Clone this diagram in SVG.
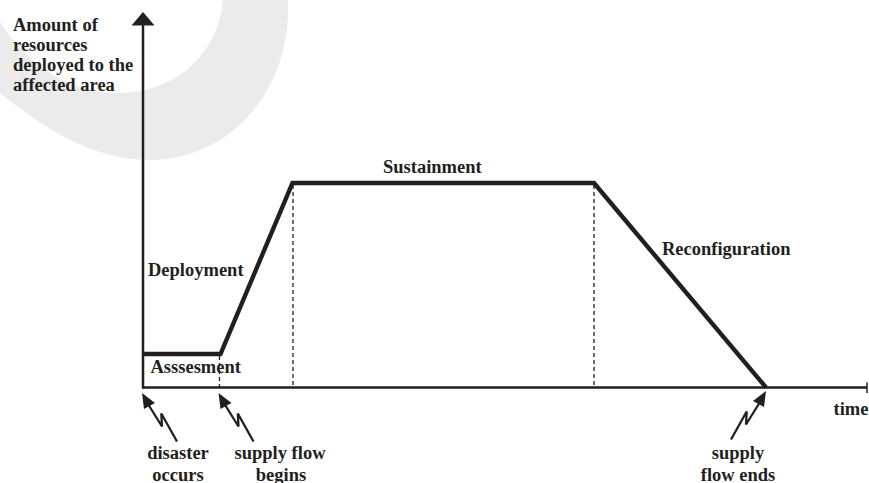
<svg xmlns="http://www.w3.org/2000/svg" width="869" height="483" viewBox="0 0 869 483">
  <style>
    .t { font-family: "Liberation Serif", "Times New Roman", serif; font-weight: bold; font-size: 18.5px; fill: #231f20; }
    .m { text-anchor: middle; }
    .ax { stroke: #231f20; stroke-width: 2.5; fill: none; }
    .curve { stroke: #231f20; stroke-width: 4.4; fill: none; stroke-linejoin: miter; }
    .dash { stroke: #231f20; stroke-width: 1.3; stroke-dasharray: 4 3; fill: none; }
    .bolt { stroke: #231f20; stroke-width: 2.3; fill: none; stroke-linejoin: miter; }
    .head { fill: #231f20; }
  </style>
  <defs>
    <g id="boltShape">
      <polygon class="head" points="0,0 2,16 13,10"/>
      <polyline class="bolt" points="6,11 20,33.5 19.3,20.5 35,48.5"/>
    </g>
  </defs>
  <rect width="869" height="483" fill="#ffffff"/>
  <path id="watermark" fill="#ebebeb" d="M 288,0 C 292,90 230,160 150,160 C 90,160 40,125 0,93 L 0,22 C 25,60 65,94 120,93 C 175,92 218,55 223,0 Z"/>

  <g id="axes">
    <line class="ax" x1="143" y1="22" x2="143" y2="388.5"/>
    <polygon class="head" points="143,12 131.5,25.5 154.5,25.5"/>
    <line class="ax" x1="142" y1="387.5" x2="867" y2="387.5"/>
    <line stroke="#231f20" stroke-width="1.5" x1="867" y1="382.5" x2="867" y2="393"/>
  </g>

  <g id="guides">
    <line class="dash" x1="219.5" y1="356" x2="219.5" y2="387"/>
    <line class="dash" x1="293" y1="185" x2="293" y2="387"/>
    <line class="dash" x1="594" y1="185" x2="594" y2="387"/>
  </g>

  <g id="connectors">
    <polyline class="curve" points="143,354 220.5,354 292.5,183 594,183 766,387.5"/>
  </g>

  <g id="y-label">
    <text class="t" x="13" y="30.5">Amount of</text>
    <text class="t" x="13" y="50.5">resources</text>
    <text class="t" x="13" y="70.5">deployed to the</text>
    <text class="t" x="13" y="90.5">affected area</text>
  </g>

  <g id="phase-assessment"><text class="t" x="150.5" y="373">Asssesment</text></g>
  <g id="phase-deployment"><text class="t" x="148" y="276">Deployment</text></g>
  <g id="phase-sustainment"><text class="t" x="383" y="172.5">Sustainment</text></g>
  <g id="phase-reconfiguration"><text class="t" x="662" y="255">Reconfiguration</text></g>
  <g id="x-label"><text class="t" x="833.5" y="415">time</text></g>

  <g id="event-disaster">
    <use href="#boltShape" transform="translate(142,393)"/>
    <text class="t m" x="178" y="459">disaster</text>
    <text class="t m" x="178" y="480.5">occurs</text>
  </g>
  <g id="event-supply-begins">
    <use href="#boltShape" transform="translate(218.5,393)"/>
    <text class="t m" x="280" y="459">supply flow</text>
    <text class="t m" x="281" y="480.5">begins</text>
  </g>
  <g id="event-supply-ends">
    <use href="#boltShape" transform="translate(766,391) scale(-1,1)"/>
    <text class="t m" x="738" y="459">supply</text>
    <text class="t m" x="738" y="480.5">flow ends</text>
  </g>
</svg>
